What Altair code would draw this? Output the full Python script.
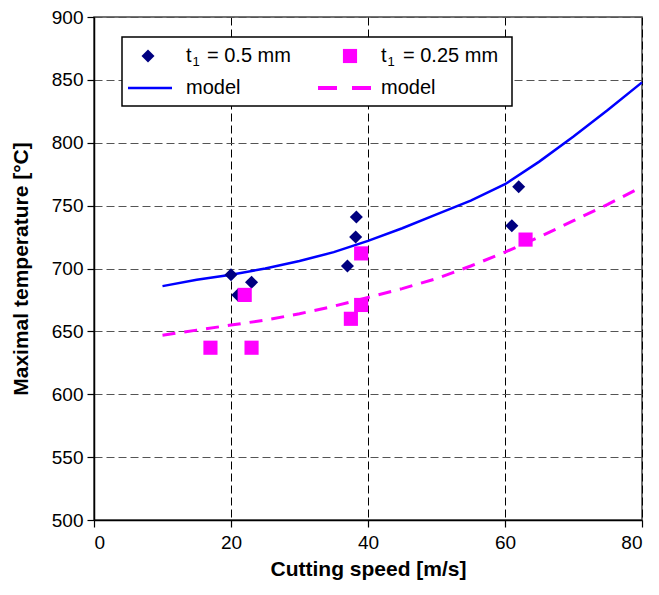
import altair as alt
import pandas as pd

# measured points
x_half = [20, 21, 23, 37, 38.2, 38.3, 61, 62]
y_half = [695, 679, 689, 702, 725, 741, 734, 765]
x_quarter = [17, 22, 23, 37.5, 39, 39, 63]
y_quarter = [637, 679, 637, 660, 671, 712, 723]

# model curves
x_model = [10, 15, 20, 25, 30, 35, 40, 45, 50, 55, 60, 65, 70, 75, 80]
y_model_half = [686, 691, 695, 700, 706, 713, 722, 732, 743, 754, 767, 785, 805, 826, 848]
y_model_quarter = [647, 651, 655, 659, 664, 670, 677, 684, 692, 702, 713, 725, 738, 751, 765]

x_ticks = [0, 20, 40, 60, 80]
y_ticks = [500, 550, 600, 650, 700, 750, 800, 850, 900]

NAVY = "#000080"
BLUE = "#0000FF"
MAG = "#FF00FF"
FONT = "Liberation Sans"

pts_half = pd.DataFrame({"x": x_half, "y": y_half})
pts_quarter = pd.DataFrame({"x": x_quarter, "y": y_quarter})
model = pd.DataFrame({"x": x_model, "a": y_model_half, "b": y_model_quarter})

xs = alt.Scale(domain=[0, 80], nice=False, zero=False)
ys = alt.Scale(domain=[500, 900], nice=False, zero=False)

xax = alt.Axis(values=x_ticks, title="Cutting speed [m/s]", grid=True,
               gridDash=[8, 4], gridColor="#000000", gridWidth=1)
yax = alt.Axis(values=y_ticks, title="Maximal temperature [°C]", grid=True,
               gridDash=[8, 4], gridColor="#555555", gridWidth=1)

base_x = alt.X("x:Q", scale=xs, axis=xax)
line_half = alt.Chart(model).mark_line(color=BLUE, strokeWidth=2.5).encode(
    x=base_x, y=alt.Y("a:Q", scale=ys, axis=yax))
line_quarter = alt.Chart(model).mark_line(color=MAG, strokeWidth=3, strokeDash=[13, 9]).encode(
    x=alt.X("x:Q", scale=xs), y=alt.Y("b:Q", scale=ys))
p_half = alt.Chart(pts_half).mark_point(shape="diamond", filled=True, color=NAVY, size=170, opacity=1).encode(
    x=alt.X("x:Q", scale=xs), y=alt.Y("y:Q", scale=ys))
p_quarter = alt.Chart(pts_quarter).mark_point(shape="square", filled=True, color=MAG, size=200, opacity=1).encode(
    x=alt.X("x:Q", scale=xs), y=alt.Y("y:Q", scale=ys))

# legend (drawn in pixel space of the plot area)
one = pd.DataFrame({"k": [0]})
L = []
L.append(alt.Chart(one).mark_rect(fill="white", stroke="black", strokeWidth=1.5).encode(
    x=alt.value(28), x2=alt.value(418), y=alt.value(20), y2=alt.value(89)))
L.append(alt.Chart(one).mark_point(shape="diamond", filled=True, color=NAVY, size=170, opacity=1).encode(
    x=alt.value(54), y=alt.value(39)))
L.append(alt.Chart(one).mark_point(shape="square", filled=True, color=MAG, size=200, opacity=1).encode(
    x=alt.value(256), y=alt.value(39)))
L.append(alt.Chart(one).mark_rule(color=BLUE, strokeWidth=2.5).encode(
    x=alt.value(34), x2=alt.value(78), y=alt.value(71)))
L.append(alt.Chart(one).mark_rule(color=MAG, strokeWidth=4, strokeDash=[19, 15]).encode(
    x=alt.value(224), x2=alt.value(278), y=alt.value(71)))

def txt(s, x, y, size=20, dy=0):
    return alt.Chart(one).mark_text(text=s, align="left", baseline="middle", font=FONT,
                                    fontSize=size, dy=dy, color="black").encode(
        x=alt.value(x), y=alt.value(y))

L.append(txt("t", 92, 39))
L.append(txt("1", 98.5, 39, size=13, dy=6))
L.append(txt("= 0.5 mm", 113, 39))
L.append(txt("t", 287, 39))
L.append(txt("1", 293.5, 39, size=13, dy=6))
L.append(txt("= 0.25 mm", 309, 39))
L.append(txt("model", 92, 71))
L.append(txt("model", 287, 71))

chart = alt.layer(line_half, line_quarter, p_half, p_quarter, *L).properties(
    width=548, height=503,
    autosize=alt.AutoSizeParams(type="none"),
    padding={"left": 86, "top": 9, "right": 9, "bottom": 60},
).configure_view(stroke="#444444", strokeWidth=1.5).configure_axis(
    labelFont=FONT, titleFont=FONT, labelFontSize=19, titleFontSize=21,
    labelColor="black", titleColor="black", domainColor="black", domainWidth=1.5,
    tickColor="black", tickSize=7, tickWidth=1.2, titleFontWeight="bold",
).configure_axisY(titlePadding=20, labelPadding=4).configure_axisX(titlePadding=6, labelPadding=6)

chart.save("out.html", embed_options={"renderer": "svg", "actions": False})
